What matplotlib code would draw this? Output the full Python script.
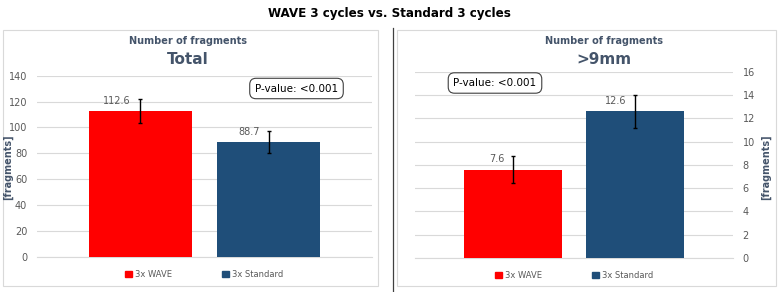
import matplotlib.pyplot as plt
from matplotlib.patches import Rectangle
from matplotlib.lines import Line2D

# data
groups = ['3x WAVE', '3x Standard']
total_means = [112.6, 88.7]
total_err = [9.5, 8.3]
big_means = [7.6, 12.6]
big_err = [1.2, 1.4]
bar_colors = ['#FF0000', '#1F4E79']

W, H = 778, 292
fig = plt.figure(figsize=(W / 100, H / 100), dpi=100)
txt = '#44546A'
tick_c = '#595959'
grid_c = '#D9D9D9'


def px(x0, y0, x1, y1):
    # pixel box (top-left origin) -> figure fraction rect
    return [x0 / W, 1 - y1 / H, (x1 - x0) / W, (y1 - y0) / H]


# chart frames
for x0, x1 in [(3, 378), (397, 776)]:
    r = px(x0, 30, x1, 286)
    fig.add_artist(Rectangle((r[0], r[1]), r[2], r[3], transform=fig.transFigure,
                             facecolor='white', edgecolor=grid_c, lw=0.8, zorder=-10))
# divider
fig.add_artist(Line2D([393 / W, 393 / W], [0, 1 - 28 / H], transform=fig.transFigure,
                      color='#404040', lw=0.9, zorder=-10))

fig.text(0.5, 1 - 13 / H, 'WAVE 3 cycles vs. Standard 3 cycles', ha='center', va='center',
         fontsize=9.5, fontweight='bold', fontstretch='condensed',
         family=['Liberation Sans Narrow', 'DejaVu Sans'])


def panel(rect, means, errs, ymax, step, subtitle, right, ptxt_xy, title_x, ylab_x):
    ax = fig.add_axes(rect)
    ax.patch.set_alpha(0)
    x = range(len(groups))
    ax.bar(x, means, width=0.8, color=bar_colors, yerr=errs, capsize=1.5,
           error_kw=dict(ecolor='black', elinewidth=1, capthick=1), zorder=3)
    ax.set_xlim(-0.8, 1.8)
    ax.set_ylim(0, ymax)
    ax.set_yticks(range(0, ymax + 1, step))
    ax.yaxis.grid(True, color=grid_c, lw=0.8, zorder=0)
    ax.set_axisbelow(True)
    ax.set_xticks([])
    for s in ['top', 'left', 'right']:
        ax.spines[s].set_visible(False)
    ax.spines['bottom'].set_color(grid_c)
    ax.tick_params(axis='y', length=0, labelsize=7, colors=tick_c, pad=7)
    if right:
        ax.yaxis.tick_right()
    fig.text(ylab_x / W, 1 - 167 / H, '[fragments]', rotation=90, ha='center', va='center',
             fontsize=7, color=txt, fontweight='bold')
    for i, (m, e) in enumerate(zip(means, errs)):
        ax.text(i - 0.07, m + ymax * 0.03, f'{m}', ha='right', va='bottom',
                fontsize=7, color=tick_c, zorder=4)
    handles = [Rectangle((0, 0), 1, 1, color=c) for c in bar_colors]
    ax.legend(handles, groups, loc='upper center', bbox_to_anchor=(0.5, -0.03), ncol=2,
              frameon=False, fontsize=6, labelcolor=tick_c, handlelength=0.8,
              handleheight=0.8, columnspacing=6, handletextpad=0.4)
    fig.text(title_x, 1 - 41 / H, 'Number of fragments', ha='center', va='center',
             fontsize=7, fontweight='bold', color=txt)
    fig.text(title_x, 1 - 59 / H, subtitle, ha='center', va='center',
             fontsize=11, fontweight='bold', color=txt)
    fig.text(ptxt_xy[0] / W, 1 - ptxt_xy[1] / H, 'P-value: <0.001', ha='center', va='center',
             fontsize=7.5, color='black',
             bbox=dict(boxstyle='round,pad=0.5,rounding_size=0.6', fc='white', ec='#404040', lw=0.8))
    return ax


panel(px(37, 75.7, 372, 257), total_means, total_err, 140, 20, 'Total', False,
      (296.5, 88.5), 188 / W, 8)
panel(px(415, 71.7, 733, 258), big_means, big_err, 16, 2, '>9mm', True,
      (495, 83), 604 / W, 766)

fig.savefig('out.png', dpi=100)
